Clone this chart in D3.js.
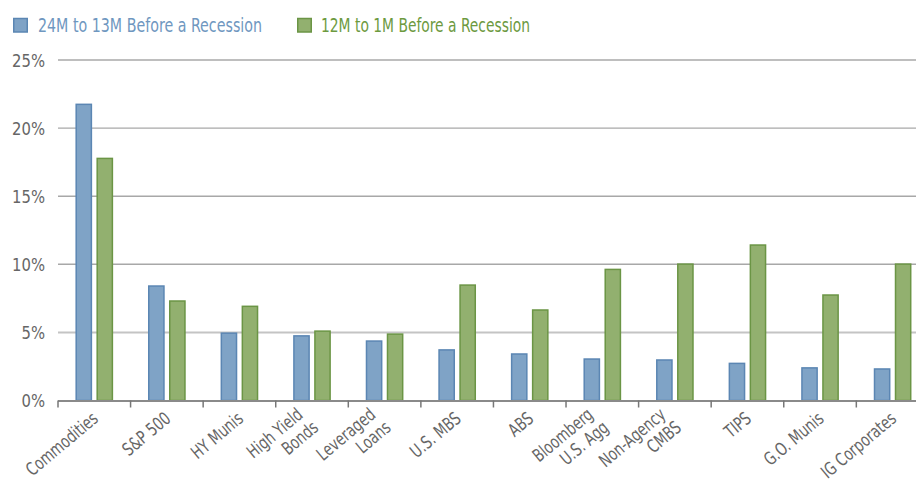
<!DOCTYPE html>
<html>
<head>
<meta charset="utf-8">
<script src="https://cdn.jsdelivr.net/npm/d3@7"></script>
<style>
  html, body { margin: 0; padding: 0; background: #fff; }
  svg { display: block; font-family: "DejaVu Sans Condensed", "DejaVu Sans", sans-serif; }
</style>
</head>
<body>
<svg id="chart" width="916" height="481"></svg>
<script>
const categories = [
  ["Commodities"], ["S&P 500"], ["HY Munis"], ["High Yield", "Bonds"],
  ["Leveraged", "Loans"], ["U.S. MBS"], ["ABS"], ["Bloomberg", "U.S. Agg"],
  ["Non-Agency", "CMBS"], ["TIPS"], ["G.O. Munis"], ["IG Corporates"]
];
const seriesNames = ["24M to 13M Before a Recession", "12M to 1M Before a Recession"];
const early = [21.8, 8.46, 5.0, 4.8, 4.42, 3.77, 3.47, 3.1, 3.03, 2.78, 2.45, 2.37];
const late  = [17.83, 7.36, 6.97, 5.15, 4.93, 8.53, 6.70, 9.68, 10.07, 11.47, 7.8, 10.07];
const yTicks = [0, 5, 10, 15, 20, 25];

const fills = ["#7fa3c6", "#92b06f"];
const strokes = ["#5b86b3", "#6b9545"];
const legendText = ["#6f97c0", "#6d9a3f"];

(function () {
const svg = d3.select("#chart");
const mLeft = 58, mRight = 928.9, mTop = 60, mBottom = 400.5;

const keys = categories.map(c => c.join(" "));
const x = d3.scaleBand().domain(keys).range([mLeft, mRight]).padding(0);
const x1 = d3.scaleBand().domain([0, 1]).range([0, x.bandwidth()]).paddingInner(0.205).paddingOuter(0.83);
const y = d3.scaleLinear().domain([0, 25]).range([mBottom, mTop]);

// gridlines
svg.append("g").selectAll("line").data(yTicks.filter(t => t > 0)).join("line")
  .attr("x1", mLeft).attr("x2", 916)
  .attr("y1", d => y(d)).attr("y2", d => y(d))
  .attr("stroke", d => d === 5 ? "#c4c4c4" : "#a8a8a8")
  .attr("stroke-width", d => d === 5 ? 2 : 1.4);

// y labels
svg.append("g").selectAll("text").data(yTicks).join("text")
  .attr("transform", d => `translate(45,${y(d)}) scale(0.89,1)`)
  .attr("dy", "0.36em")
  .attr("text-anchor", "end")
  .attr("fill", "#666")
  .attr("font-size", 18.5)
  .text(d => d + "%");

// bars
const data = keys.map((k, i) => ({ k, vals: [early[i], late[i]] }));
const groups = svg.append("g").selectAll("g").data(data).join("g")
  .attr("transform", d => `translate(${x(d.k)},0)`);
groups.selectAll("rect").data(d => d.vals.map((v, s) => ({ v, s }))).join("rect")
  .attr("x", d => x1(d.s) + 0.75)
  .attr("width", x1.bandwidth() - 1.5)
  .attr("y", d => y(d.v) + 0.75)
  .attr("height", d => mBottom - y(d.v) - 0.75)
  .attr("fill", d => fills[d.s])
  .attr("stroke", d => strokes[d.s])
  .attr("stroke-width", 1.5);

// x axis
const xAxis = svg.append("g");
xAxis.append("line").attr("x1", mLeft).attr("x2", 916).attr("y1", mBottom + 0.5).attr("y2", mBottom + 0.5)
  .attr("stroke", "#8a8a8a").attr("stroke-width", 2);
xAxis.selectAll("line.tick").data(keys).join("line").attr("class", "tick")
  .attr("x1", d => x(d)).attr("x2", d => x(d))
  .attr("y1", mBottom).attr("y2", mBottom + 7)
  .attr("stroke", "#777").attr("stroke-width", 1.5);

// category labels (rotated, right-aligned)
const lineOffsets = {
  1: [[5, 20]],
  2: [[-8, 16], [7.5, 29]]
};
const labelItems = [];
categories.forEach((lines, i) => {
  const cx = x(keys[i]) + x.bandwidth() / 2;
  lines.forEach((line, j) => {
    const off = lineOffsets[lines.length][j];
    labelItems.push({ text: line, px: cx + off[0], py: mBottom + off[1] });
  });
});
xAxis.selectAll("text.cat").data(labelItems).join("text").attr("class", "cat")
  .attr("transform", d => `translate(${d.px},${d.py}) rotate(-40) scale(0.82,1)`)
  .attr("text-anchor", "end")
  .attr("fill", "#666")
  .attr("font-size", 18)
  .text(d => d.text);

// legend
const leg = svg.append("g");
const legX = [13, 297];
const legTextX = [38, 321];
const legLen = [224, 209];
seriesNames.forEach((name, i) => {
  leg.append("rect").attr("x", legX[i] + 0.75).attr("y", 18.5).attr("width", 13.5).attr("height", 13.5)
    .attr("fill", fills[i]).attr("stroke", strokes[i]).attr("stroke-width", 1.5);
  leg.append("text").attr("x", legTextX[i]).attr("y", 32.3)
    .attr("textLength", legLen[i]).attr("lengthAdjust", "spacingAndGlyphs")
    .attr("fill", legendText[i]).attr("font-size", 19.5).text(name);
});
})();
</script>
</body>
</html>
